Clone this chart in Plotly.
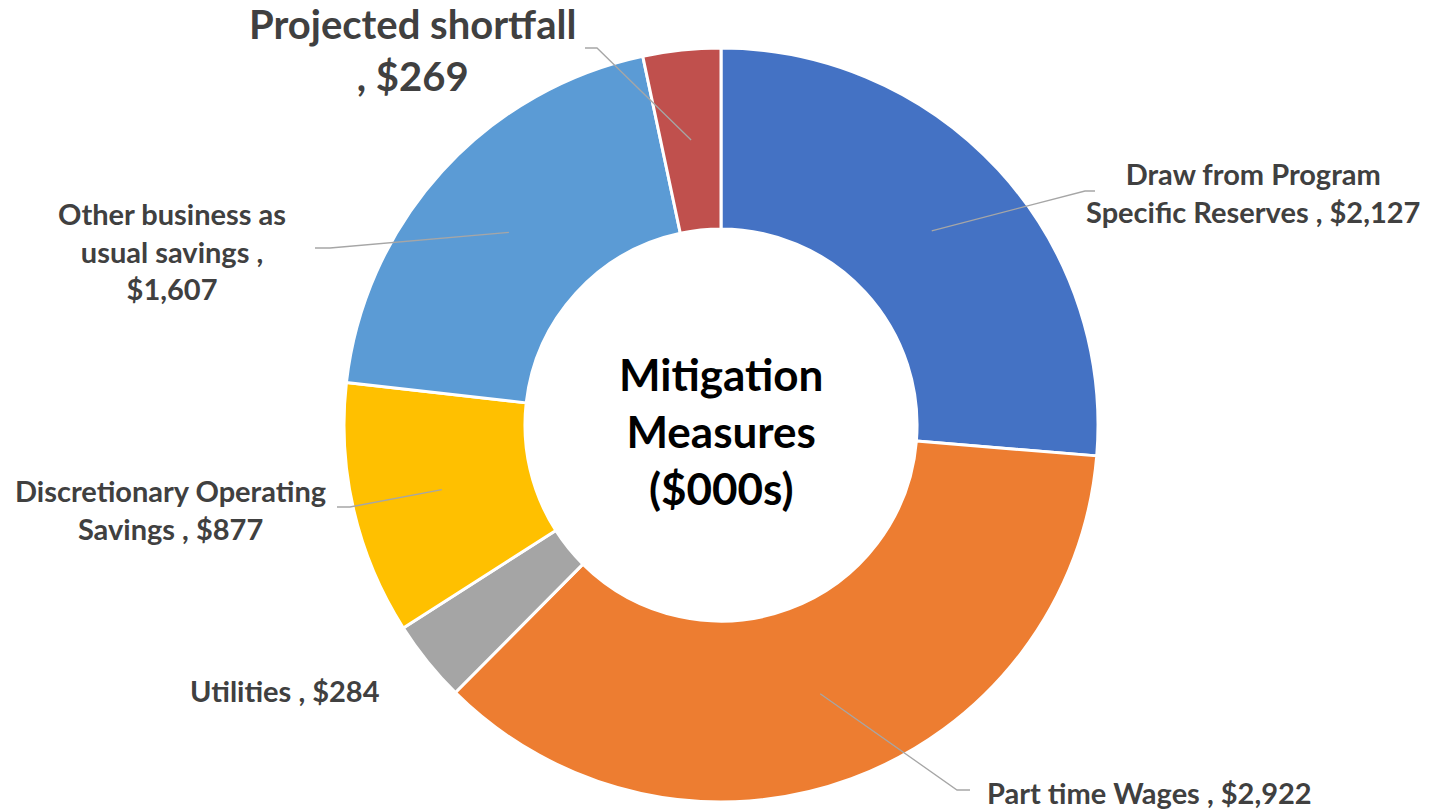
import math
import plotly.graph_objects as go

categories = ["Draw from Program Specific Reserves", "Part time Wages", "Utilities",
              "Discretionary Operating Savings", "Other business as usual savings",
              "Projected shortfall"]
values = [2127, 2922, 284, 877, 1607, 269]
colors = ["#4472C4", "#ED7D31", "#A5A5A5", "#FFC000", "#5B9BD5", "#C0504D"]
label_templates = [
    "Draw from Program<br>Specific Reserves , {v}",
    "Part time Wages , {v}",
    "Utilities , {v}",
    "Discretionary Operating<br>Savings , {v}",
    "Other business as<br>usual savings ,<br>{v}",
    "Projected shortfall<br>, {v}",
]
center_title = "Mitigation<br>Measures<br>($000s)"

W, H = 1454, 809
CX, CY, R = 721, 425, 377
HOLE = 0.52

# label layout: (x, y, xanchor, font size, leader elbow (x, y), leader end x) in pixels
label_layout = [
    (1253, 193, "center", 29, (1085, 191), 1095),
    (985, 792, "left", 29, (957, 790), 970),
    (285, 690, "center", 29, None, None),
    (170, 510, "center", 29, (350, 507), 337),
    (172, 251, "center", 29, (330, 248), 315),
    (412, 50, "center", 40, (597, 48), 585),
]

FONT = "Lato"

fig = go.Figure()
fig.add_trace(go.Pie(
    values=values,
    labels=categories,
    hole=HOLE,
    sort=False,
    direction="clockwise",
    rotation=0,
    marker=dict(colors=colors, line=dict(color="white", width=3)),
    textinfo="none",
    hoverinfo="label+value",
    showlegend=False,
    domain=dict(x=[(CX - R) / W, (CX + R) / W], y=[(H - CY - R) / H, (H - CY + R) / H]),
))

def px(x):
    return x / W

def py(y):
    return 1 - y / H

total = sum(values)
cum = 0
annotations = []
shapes = []
for i, v in enumerate(values):
    mid = (cum + v / 2) / total * 2 * math.pi
    cum += v
    rm = R * (1 + HOLE) / 2
    sx = CX + rm * math.sin(mid)
    sy = CY - rm * math.cos(mid)
    lx, ly, anchor, fs, elbow, endx = label_layout[i]
    text = label_templates[i].format(v=f"${v:,}")
    annotations.append(dict(
        x=px(lx), y=py(ly), xref="paper", yref="paper", text=text, showarrow=False,
        xanchor=anchor, yanchor="middle", align="center",
        font=dict(family=FONT, size=fs, color="#404040", weight="bold"),
    ))
    if elbow is not None:
        ex, ey = elbow
        shapes.append(dict(
            type="path", xref="paper", yref="paper",
            path=f"M {px(sx)},{py(sy)} L {px(ex)},{py(ey)} L {px(endx)},{py(ey)}",
            line=dict(color="#A6A6A6", width=1.3),
        ))

annotations.append(dict(
    x=px(CX), y=py(431), xref="paper", yref="paper", text=center_title, showarrow=False,
    xanchor="center", yanchor="middle", align="center",
    font=dict(family=FONT, size=44, color="#000000", weight="bold"),
))

fig.update_layout(
    width=W, height=H,
    margin=dict(l=0, r=0, t=0, b=0),
    paper_bgcolor="white", plot_bgcolor="white",
    annotations=annotations, shapes=shapes,
)

fig.write_html("out.html", config={"displayModeBar": False},
               post_script="document.body.style.margin='0';document.body.style.overflow='hidden';")
